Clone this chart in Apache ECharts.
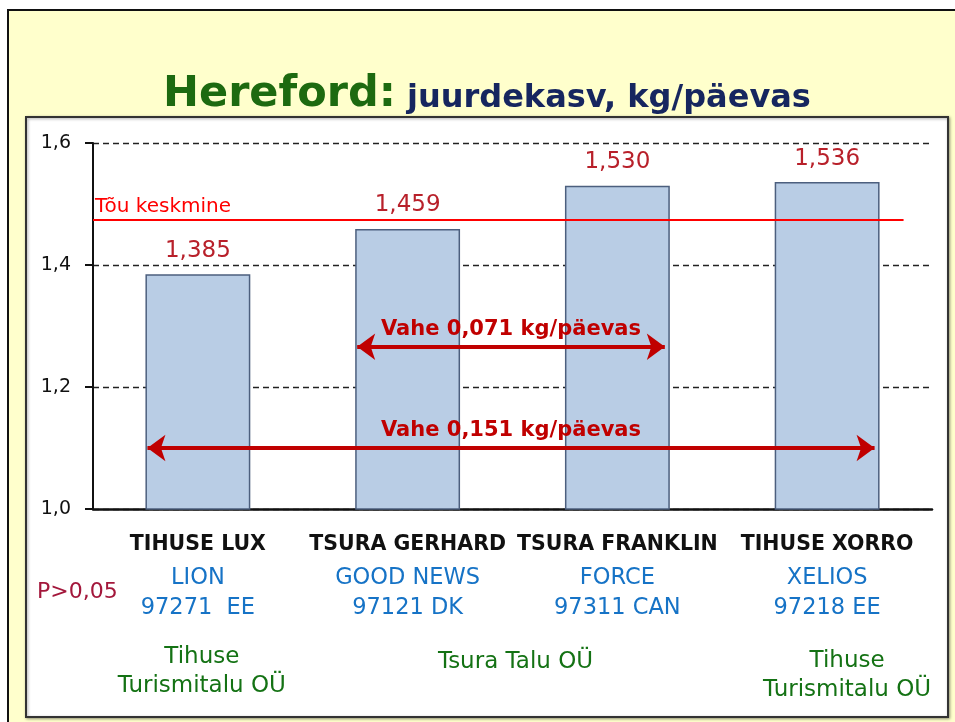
<!DOCTYPE html>
<html>
<head>
<meta charset="utf-8">
<title>Hereford: juurdekasv, kg/päevas</title>
<script src="https://cdn.jsdelivr.net/npm/echarts@6/dist/echarts.min.js"></script>
<style>
  html, body { margin: 0; padding: 0; background: #fff; }
  #chart { width: 955px; height: 722px; }
</style>
</head>
<body>
<div id="chart"></div>
<script>
// data
const categories = ['TIHUSE LUX', 'TSURA GERHARD', 'TSURA FRANKLIN', 'TIHUSE XORRO'];
const sires = ['LION', 'GOOD NEWS', 'FORCE', 'XELIOS'];
const sireIds = ['97271  EE', '97121 DK', '97311 CAN', '97218 EE'];
const gains = [1.385, 1.459, 1.530, 1.536];
const breedAverage = 1.475;
const breedAverageLabel = 'Tõu keskmine';
const diffPairs = [[1, 2], [0, 3]];
const owners = ['Tihuse\nTurismitalu OÜ', 'Tsura Talu OÜ', 'Tihuse\nTurismitalu OÜ'];
const ownerSpans = [[0, 0], [1, 2], [3, 3]];
const significance = 'P>0,05';
const yMin = 1.0;
const yMax = 1.6;
const yStep = 0.2;

const FONT = 'DejaVu Sans';
const comma = (v, d) => v.toFixed(d).replace('.', ',');

const chart = echarts.init(document.getElementById('chart'));

chart.setOption({
  backgroundColor: '#fff',
  animation: false,
  title: {
    left: 158,
    top: 68,
    text: '{a|Hereford:} {b|juurdekasv, kg/päevas}',
    textStyle: {
      rich: {
        a: { fontFamily: FONT, fontSize: 43, fontWeight: 'bold', color: '#1d6a10', verticalAlign: 'bottom' },
        b: { fontFamily: FONT, fontSize: 32, fontWeight: 'bold', color: '#16265f', verticalAlign: 'bottom', padding: [0, 0, 1, 6] }
      }
    }
  },
  grid: { left: 93, right: 23, top: 143, bottom: 213, containLabel: false },
  xAxis: {
    type: 'category',
    data: categories,
    axisLine: { lineStyle: { color: '#111', width: 2.5 } },
    axisTick: { show: false },
    axisLabel: {
      margin: 18,
      interval: 0,
      formatter: (v, i) => `{c|${v}}\n{s|${sires[i]}}\n{s|${sireIds[i]}}`,
      rich: {
        c: { fontFamily: FONT, fontSize: 20.5, fontWeight: 'bold', color: '#111', lineHeight: 36 },
        s: { fontFamily: FONT, fontSize: 22.5, color: '#1673c6', lineHeight: 30 }
      }
    }
  },
  yAxis: {
    type: 'value',
    min: yMin,
    max: yMax,
    interval: yStep,
    axisLine: { show: true, lineStyle: { color: '#111', width: 2 } },
    axisTick: { show: true, length: 8, lineStyle: { color: '#111', width: 2 } },
    axisLabel: {
      margin: 22,
      fontFamily: FONT,
      fontSize: 19,
      color: '#111',
      formatter: v => comma(v, 1)
    },
    splitLine: { lineStyle: { color: '#222', width: 1.3, type: [6, 4] } }
  },
  series: [{
    type: 'bar',
    data: gains,
    barWidth: '50%',
    itemStyle: { color: '#b9cde5', borderColor: '#4c5f7e', borderWidth: 1.5 },
    label: {
      show: true,
      position: 'top',
      distance: 12,
      fontFamily: FONT,
      fontSize: 23,
      color: '#b8202a',
      formatter: p => comma(p.value, 3)
    }
  }]
});

// annotations, placed through the axes
const cx = categories.map(c => chart.convertToPixel({ xAxisIndex: 0 }, c));
const yPx = v => chart.convertToPixel({ yAxisIndex: 0 }, v);
const halfBar = (cx[1] - cx[0]) / 4;
const gridLeft = 93;
const arrowLevels = [1.266, 1.100];

const arrowLines = diffPairs.map(([a, b], k) => {
  const y = yPx(arrowLevels[k]);
  const diff = gains[b] - gains[a];
  return [
    { x: cx[a] - halfBar + 2, y: y, symbol: 'arrow', symbolSize: [20, 18],
      lineStyle: { color: '#c00000', width: 4, type: 'solid' },
      label: {
        show: true, position: 'insideMiddleTop', distance: 7,
        formatter: 'Vahe ' + comma(diff, 3) + ' kg/päevas',
        fontFamily: FONT, fontSize: 21, fontWeight: 'bold', color: '#c00000'
      } },
    { x: cx[b] + halfBar - 5, y: y, symbol: 'arrow', symbolSize: [20, 18] }
  ];
});

const avgY = yPx(breedAverage);
const avgLine = [
  { x: gridLeft, y: avgY, symbol: 'none',
    lineStyle: { color: '#ff0000', width: 2, type: 'solid' },
    label: {
      show: true, position: 'insideStartTop', distance: 2,
      formatter: breedAverageLabel,
      fontFamily: FONT, fontSize: 20, color: '#ff0000'
    } },
  { x: cx[3] + halfBar + 24, y: avgY, symbol: 'none' }
];

const ownerPlace = [[4, 672], [3, 662], [20, 676]];
const ownerTexts = owners.map((name, k) => {
  const [a, b] = ownerSpans[k];
  return {
    type: 'text',
    x: (cx[a] + cx[b]) / 2 + ownerPlace[k][0],
    y: ownerPlace[k][1],
    style: {
      text: name, align: 'center', verticalAlign: 'middle',
      fontFamily: FONT, fontSize: 23, lineHeight: 29, fill: '#147214'
    }
  };
});

chart.setOption({
  graphic: [
    { type: 'rect', z: -20, shape: { x: 8, y: 10, width: 960, height: 720 },
      style: { fill: '#ffffcc', stroke: '#111', lineWidth: 2 } },
    { type: 'rect', z: -19, shape: { x: 26, y: 117, width: 922, height: 600 },
      style: { fill: '#ffffff', stroke: '#333', lineWidth: 2,
        shadowBlur: 3, shadowOffsetX: 1, shadowOffsetY: 1, shadowColor: 'rgba(0,0,0,0.35)' } },
    { type: 'text', x: 37, y: 592,
      style: { text: significance, verticalAlign: 'middle', fontFamily: FONT, fontSize: 22, fill: '#a3173b' } },
    ...ownerTexts
  ],
  series: [{
    markLine: {
      silent: true,
      animation: false,
      data: [avgLine, ...arrowLines]
    }
  }]
});
</script>
</body>
</html>
